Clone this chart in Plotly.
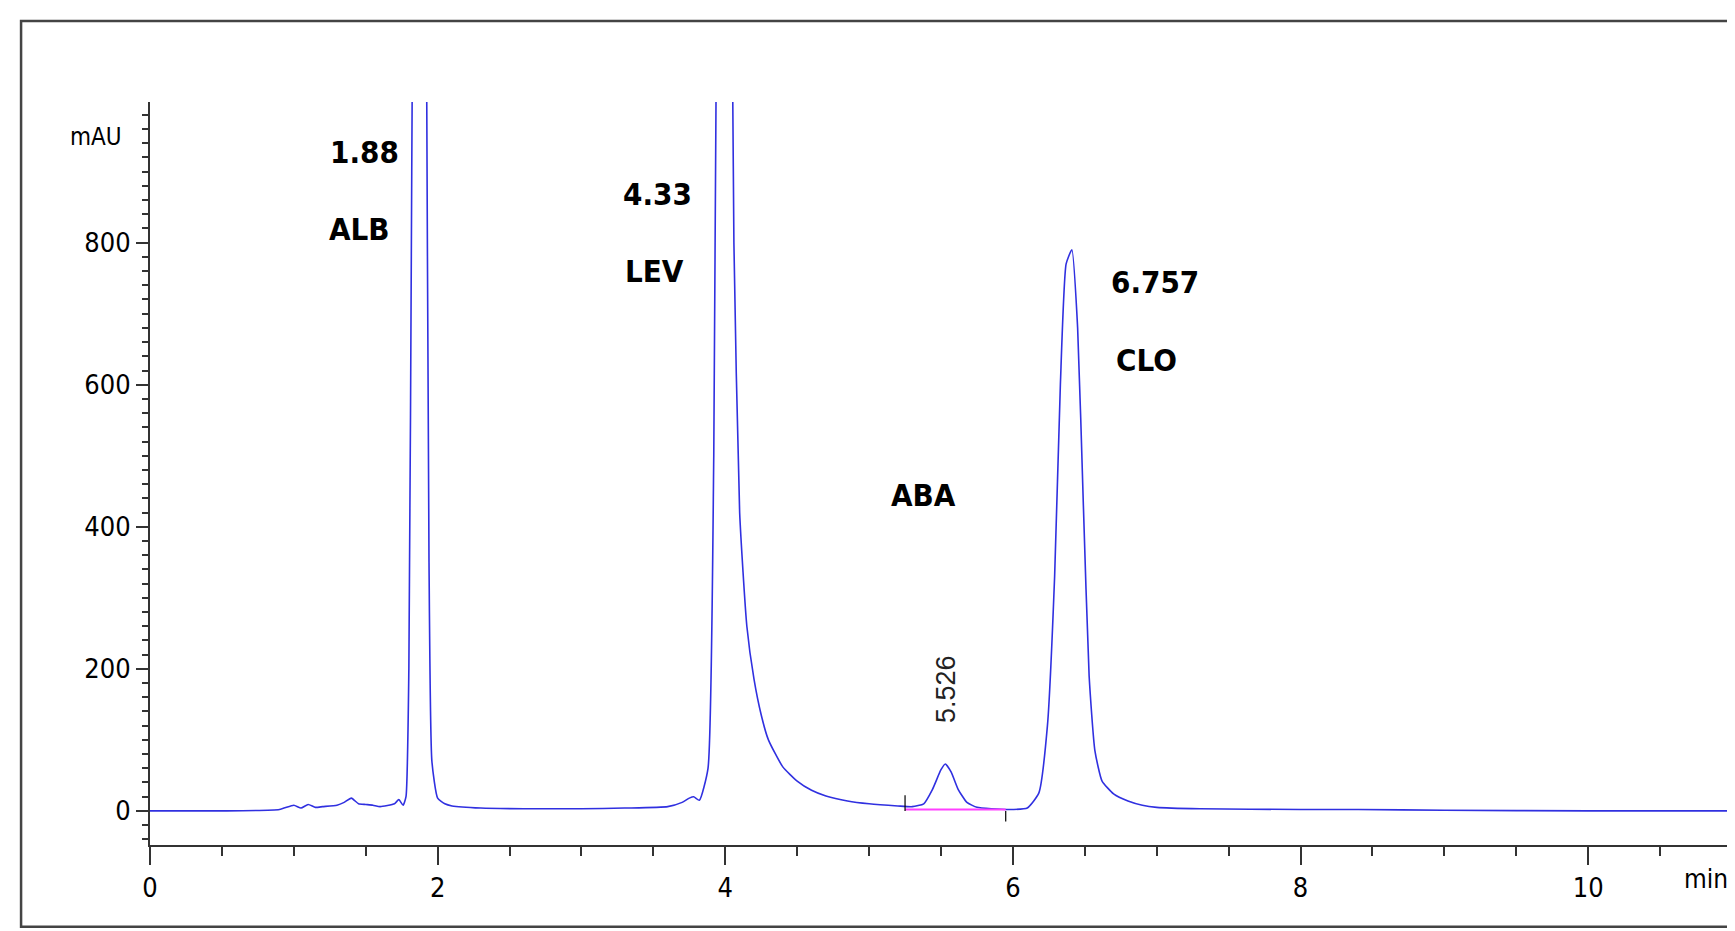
import plotly.graph_objects as go

time_min = [0, 0.5, 0.9, 1.0, 1.05, 1.1, 1.15, 1.2, 1.3, 1.35, 1.4, 1.45, 1.5, 1.55, 1.6, 1.7, 1.73, 1.76, 1.78, 1.8, 1.82, 1.84, 1.86, 1.88, 1.9, 1.92, 1.94, 1.96, 2.0, 2.05, 2.1, 2.3, 2.6, 3.0, 3.3, 3.6, 3.7, 3.75, 3.78, 3.82, 3.88, 3.92, 3.95, 3.98, 4.0, 4.03, 4.06, 4.1, 4.15, 4.2, 4.25, 4.3, 4.4, 4.5, 4.6, 4.7, 4.85, 5.0, 5.2, 5.3, 5.38, 5.44, 5.5, 5.53, 5.57, 5.62, 5.68, 5.75, 5.85, 6.0, 6.1, 6.18, 6.24, 6.29, 6.33, 6.37, 6.41, 6.45, 6.49, 6.53, 6.57, 6.62, 6.7, 6.8, 6.9, 7.0, 7.3, 8.0, 8.4, 9.0, 10.0, 11.0]
signal_mau = [0, 0, 2, 8, 4, 9, 5, 6, 8, 12, 18, 10, 9, 8, 6, 10, 16, 8, 20, 200, 900, 1600, 1950, 2000, 1900, 1200, 350, 70, 18, 10, 7, 4, 3, 3, 4, 6, 12, 18, 20, 15, 60, 500, 1500, 1950, 2000, 1600, 800, 420, 260, 185, 135, 100, 62, 42, 29, 21, 14, 10, 7, 6, 10, 30, 58, 66, 55, 30, 12, 5, 3, 2, 4, 25, 120, 330, 600, 770, 790, 680, 430, 190, 85, 42, 24, 14, 8, 5, 3, 2, 2, 1, 0, 0]

baseline_t = [5.25, 5.95]
baseline_v = [2, 2]

labels = [("1.88", 1.49, 928), ("ALB", 1.46, 819), ("4.33", 3.53, 869), ("LEV", 3.51, 760),
          ("ABA", 5.38, 445), ("6.757", 6.99, 744), ("CLO", 6.93, 635)]
rot_label = ("5.526", 5.53, 172)

FONT = "Liberation Sans Narrow, Arial Narrow, DejaVu Sans Condensed, sans-serif"

fig = go.Figure()
fig.add_trace(go.Scatter(x=time_min, y=signal_mau, mode="lines", line=dict(color="#3030e0", width=1.6, shape="spline", smoothing=0.5), hoverinfo="skip"))
fig.add_trace(go.Scatter(x=baseline_t, y=baseline_v, mode="lines", line=dict(color="#ff40ff", width=2), hoverinfo="skip"))
fig.add_shape(type="line", x0=baseline_t[0], x1=baseline_t[0], y0=0, y1=22, line=dict(color="black", width=1.2))
fig.add_shape(type="line", x0=baseline_t[1], x1=baseline_t[1], y0=0, y1=-15, line=dict(color="black", width=1.2))

for txt, x, y in labels:
    fig.add_annotation(x=x, y=y, text="<b>" + txt + "</b>", showarrow=False, font=dict(size=31, color="black", family=FONT))
fig.add_annotation(x=rot_label[1], y=rot_label[2], text=rot_label[0], textangle=-90, showarrow=False, font=dict(size=27, color="#222", family="Liberation Sans, Arial, sans-serif"))
fig.add_annotation(xref="paper", yref="paper", x=-0.052, y=0.975, text="mAU", showarrow=False, font=dict(size=24, color="black", family=FONT))
fig.add_annotation(xref="paper", yref="paper", x=0.999, y=-0.068, xanchor="right", text="min", showarrow=False, font=dict(size=26, color="black", family=FONT))

fig.add_shape(type="rect", xref="paper", yref="paper", x0=-0.0815, x1=0.9994, y0=-0.110, y1=1.109, line=dict(color="#444", width=2.5))

fig.update_layout(
    width=1735, height=931, margin=dict(l=142, r=11, t=94, b=94),
    plot_bgcolor="white", paper_bgcolor="white", showlegend=False,
    font=dict(family=FONT, size=27, color="black"),
    xaxis=dict(range=[0, 11], showgrid=False, zeroline=False, showline=True, linecolor="#333", linewidth=2,
               tickmode="array", tickvals=[0, 2, 4, 6, 8, 10], ticks="outside", ticklen=18, tickwidth=1.5, tickcolor="#333",
               minor=dict(dtick=0.5, ticks="outside", ticklen=9, tickcolor="#333")),
    yaxis=dict(range=[-48, 998], showgrid=False, zeroline=False, showline=True, linecolor="#333", linewidth=2,
               tickvals=[0, 200, 400, 600, 800], ticks="outside", ticklen=12, tickwidth=1.5, tickcolor="#333",
               minor=dict(dtick=20, ticks="outside", ticklen=6, tickcolor="#333")),
)
fig.write_html("out.html")
